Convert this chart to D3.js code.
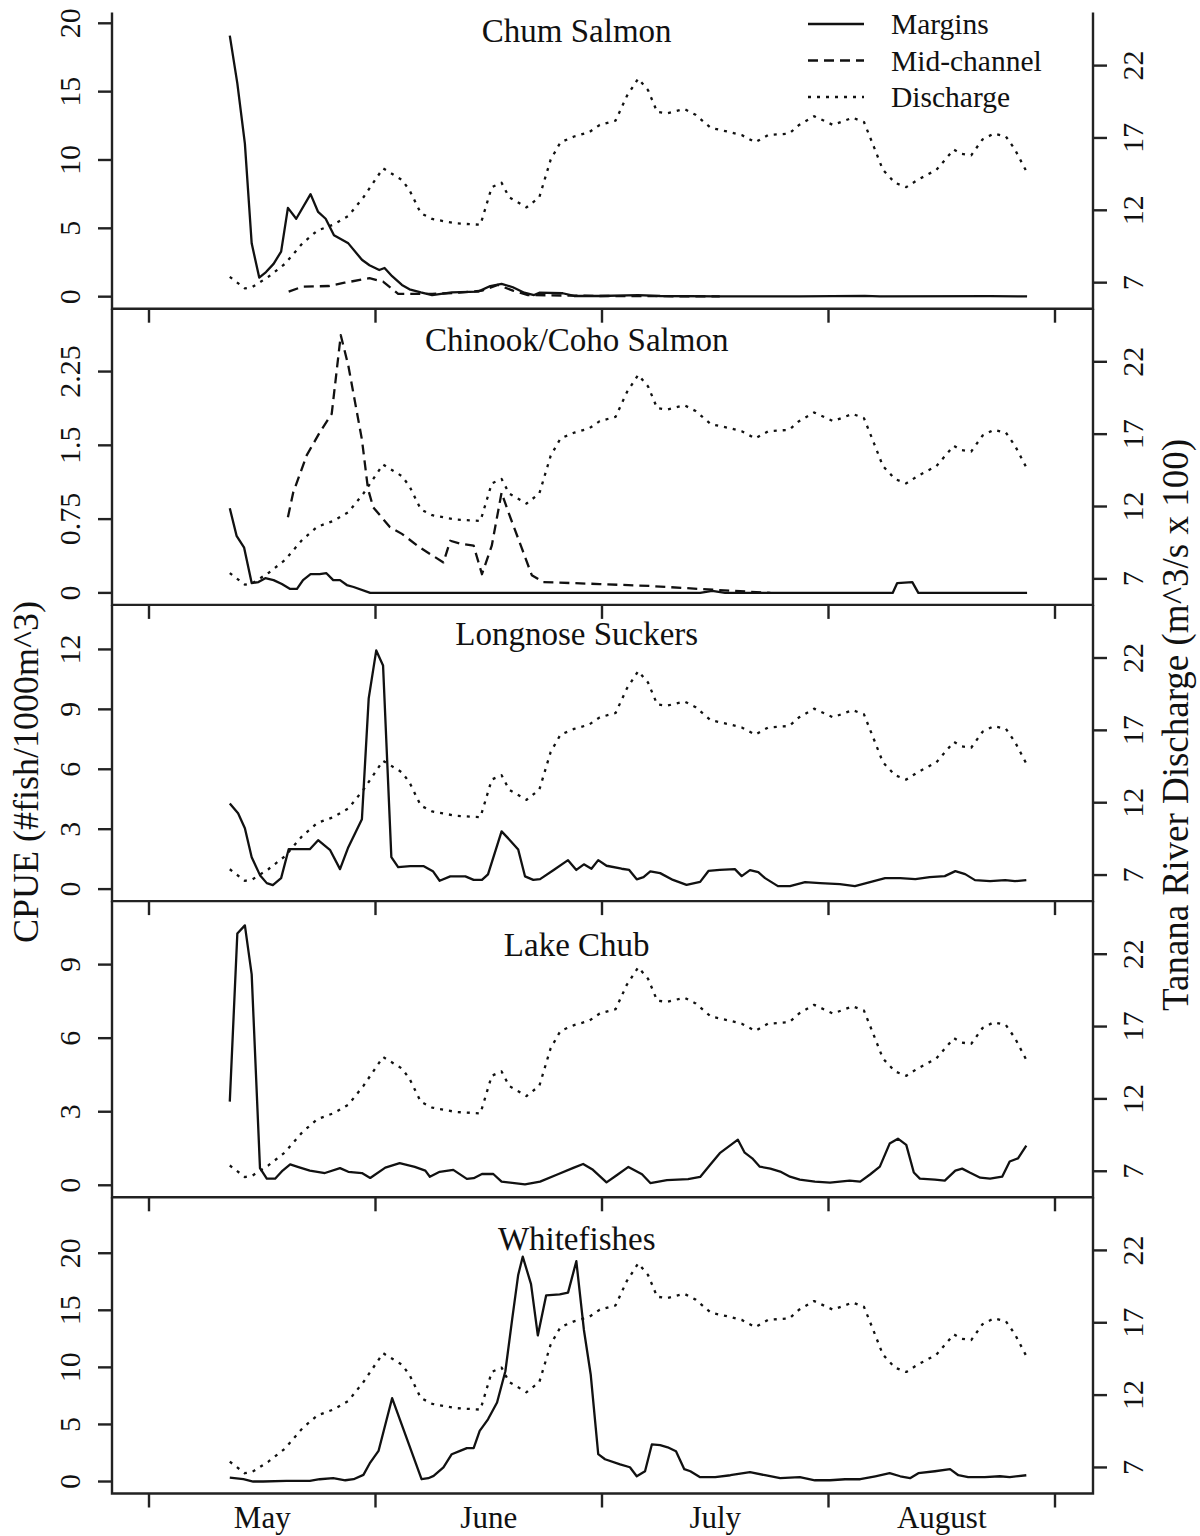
<!DOCTYPE html>
<html>
<head>
    <title>CPUE and Tanana River discharge</title>
    <script src="https://d3js.org/d3.v7.min.js"></script>
    <style>
        body { margin: 0; background: #fff; }
        svg text { font-family: "Liberation Serif", "DejaVu Serif", serif; fill: #111; }
        .spine { stroke: #222; stroke-width: 2.4; fill: none; }
        .series { fill: none; stroke: #111; stroke-width: 2.3; stroke-linejoin: round; }
    </style>
</head>
<body>
    <div id="chart"></div>

    <script>
        // Month axis (days counted from the first tick)
        const monthNames = ["May", "June", "July", "August"];
        const monthTickDays = [0, 30, 60, 90, 120];
        const monthLabelDays = [15, 45, 75, 105];

        // Panel titles and left axis ticks
        const panelTitles = ["Chum Salmon", "Chinook/Coho Salmon", "Longnose Suckers", "Lake Chub", "Whitefishes"];
        const cpueTicks = [[0, 5, 10, 15, 20], [0, 0.75, 1.5, 2.25], [0, 3, 6, 9, 12], [0, 3, 6, 9], [0, 5, 10, 15, 20]];
        const cpueDomains = [[-0.88, 20.79], [-0.122, 2.889], [-0.60, 14.23], [-0.49, 11.59], [-1.05, 24.9]];
        const flowTicks = [7, 12, 17, 22];
        const flowDomain = [5.2, 25.67];

        // Tanana River discharge (m^3/s x 100), same line in every panel
        const discharge = [[10.7,7.4],[12.7,6.6],[13.7,6.7],[15.8,7.4],[18.0,8.3],[20.3,9.7],[22.3,10.6],[24.4,11.0],
            [26.4,11.6],[28.4,12.9],[31.0,14.9],[33.5,14.1],[34.5,13.4],[36.0,11.8],[37.5,11.4],[40.6,11.1],[43.9,11.0],
            [45.4,13.6],[46.7,13.9],[47.7,12.9],[50.0,12.2],[51.7,12.9],[53.2,15.5],[54.5,16.7],[56.3,17.1],[58.3,17.4],
            [59.7,17.9],[61.8,18.2],[63.3,19.9],[64.8,21.1],[66.1,20.3],[67.3,18.8],[68.6,18.7],[70.9,19.0],[72.4,18.6],
            [74.4,17.7],[77.0,17.4],[78.5,17.2],[80.3,16.7],[82.0,17.2],[84.8,17.3],[86.1,17.9],[88.1,18.5],[90.6,17.9],
            [93.2,18.4],[94.7,18.1],[96.0,16.4],[97.2,14.8],[98.8,13.9],[100.3,13.6],[101.8,14.1],[104.3,14.8],[106.6,16.2],
            [107.6,15.9],[108.9,15.8],[110.4,16.9],[111.9,17.3],[113.5,17.1],[114.7,16.2],[116.3,14.6]];

        // CPUE (#fish/1000m^3), [day, value]
        const chumMargins = [[10.7,19.1],[11.7,15.6],[12.7,11.2],[13.6,3.9],[14.6,1.4],[15.5,1.8],[16.5,2.4],[17.5,3.3],
            [18.4,6.5],[19.5,5.7],[21.4,7.5],[22.4,6.2],[23.4,5.7],[24.5,4.5],[26.4,3.9],[28.2,2.7],[29.2,2.3],[30.5,1.95],
            [31.2,2.1],[32.2,1.5],[33.5,0.86],[34.5,0.54],[36.0,0.32],[37.5,0.12],[40.1,0.32],[43.6,0.37],[45.2,0.78],
            [46.7,0.93],[48.2,0.69],[49.7,0.29],[51.0,0.12],[51.7,0.29],[54.8,0.25],[56.3,0.05],[59.7,0.05],[64.8,0.12],
            [67.7,0.05],[75.6,0.02],[86.2,0.02],[94.8,0.06],[96.8,0.02],[111.4,0.04],[116.3,0.02]];
        const chumMid = [[18.5,0.37],[20.3,0.73],[23.8,0.78],[25.9,1.02],[29.2,1.35],[31.0,1.1],[33.0,0.2],[37.5,0.2],
            [41.1,0.29],[44.1,0.44],[46.2,0.86],[48.2,0.44],[50.2,0.12],[59.7,0.05],[75.6,0.02]];

        const chinookMargins = [[10.7,0.86],[11.6,0.58],[12.6,0.46],[13.6,0.10],[14.5,0.11],[15.4,0.15],[16.5,0.13],
            [17.6,0.09],[18.7,0.04],[19.6,0.04],[20.4,0.13],[21.4,0.19],[22.6,0.19],[23.5,0.2],[24.4,0.13],[25.3,0.13],
            [26.2,0.08],[27.1,0.06],[29.3,0],[73.0,0],[74.6,0.02],[76.3,0],[98.5,0],[99.1,0.1],[101.1,0.11],[101.9,0],[116.3,0]];
        const chinookMid = [[18.4,0.77],[19.1,1.02],[20.9,1.40],[22.6,1.63],[24.2,1.82],[25.4,2.62],[26.4,2.31],[28.2,1.56],
            [29.0,1.06],[29.7,0.87],[31.9,0.67],[33.5,0.6],[35.9,0.46],[39.0,0.31],[39.9,0.53],[41.2,0.5],[43.0,0.48],
            [44.1,0.19],[45.4,0.48],[46.7,1.02],[47.6,0.82],[49.4,0.45],[50.7,0.18],[52.2,0.11],[59.7,0.09],[66.4,0.07],
            [73.0,0.04],[75.3,0.03],[82.3,0.0]];

        const longnoseMargins = [[10.7,4.29],[11.8,3.8],[12.7,3.05],[13.6,1.6],[14.7,0.7],[15.6,0.3],[16.4,0.2],[17.5,0.55],
            [18.5,2.0],[19.6,2.0],[21.3,2.0],[22.4,2.45],[24.0,1.95],[25.3,1.0],[26.4,2.1],[28.2,3.5],[29.1,9.55],[30.1,11.95],
            [31.0,11.2],[32.1,1.6],[33.0,1.1],[34.6,1.15],[36.4,1.15],[37.6,0.9],[38.5,0.42],[39.9,0.64],[41.9,0.64],[43.0,0.46],
            [44.1,0.46],[44.9,0.74],[46.7,2.89],[47.8,2.45],[48.9,1.98],[49.8,0.64],[50.9,0.46],[51.8,0.5],[53.6,0.96],[55.5,1.45],
            [56.6,0.96],[57.6,1.24],[58.6,1.02],[59.5,1.45],[60.6,1.17],[62.6,1.02],[63.6,0.96],[64.6,0.49],[65.5,0.6],[66.4,0.89],
            [67.7,0.8],[69.4,0.46],[71.2,0.21],[73.0,0.36],[74.1,0.91],[75.6,0.96],[77.6,1.0],[78.5,0.65],[79.6,0.95],[80.7,0.85],
            [81.6,0.55],[83.3,0.15],[84.9,0.15],[86.9,0.35],[88.9,0.3],[91.5,0.25],[93.5,0.15],[95.5,0.35],[97.5,0.55],[99.5,0.55],
            [101.5,0.5],[103.4,0.6],[105.4,0.65],[106.8,0.9],[108.1,0.75],[109.4,0.45],[111.4,0.4],[113.4,0.45],[114.7,0.4],[116.2,0.45]];

        const chubMargins = [[10.7,3.41],[11.7,10.27],[12.7,10.6],[13.6,8.6],[14.7,0.7],[15.6,0.27],[16.7,0.27],[17.7,0.6],
            [18.7,0.85],[19.7,0.75],[21.3,0.6],[23.3,0.5],[25.3,0.7],[26.4,0.55],[28.2,0.5],[29.3,0.3],[31.3,0.72],[33.2,0.9],
            [35.2,0.75],[36.6,0.6],[37.2,0.35],[38.5,0.55],[40.3,0.63],[42.1,0.26],[43.0,0.29],[44.1,0.46],[45.6,0.46],[46.7,0.15],
            [49.8,0.04],[51.8,0.15],[54.0,0.43],[56.2,0.71],[57.5,0.87],[58.8,0.63],[60.6,0.12],[61.9,0.4],[63.5,0.75],[65.3,0.45],
            [66.4,0.09],[68.6,0.21],[71.4,0.25],[73.0,0.34],[74.3,0.83],[75.6,1.31],[78.0,1.86],[78.9,1.33],[79.9,1.1],[80.9,0.76],
            [82.3,0.68],[83.6,0.56],[84.9,0.35],[86.2,0.23],[88.2,0.15],[90.2,0.11],[91.5,0.15],[92.8,0.19],[94.2,0.15],[95.5,0.44],
            [96.8,0.76],[98.1,1.7],[99.2,1.9],[100.3,1.65],[101.3,0.52],[102.1,0.27],[104.1,0.23],[105.4,0.19],[106.8,0.6],
            [107.7,0.68],[108.7,0.52],[110.1,0.31],[111.4,0.27],[113.0,0.35],[114.0,0.97],[115.1,1.1],[116.2,1.62]];

        const whiteMargins = [[10.7,0.35],[12.5,0.2],[13.8,0.0],[15.1,0.0],[18.2,0.05],[21.3,0.05],[22.6,0.2],[24.4,0.29],
            [26.0,0.11],[27.1,0.2],[28.4,0.58],[29.3,1.66],[30.4,2.68],[32.2,7.3],[36.1,0.2],[37.0,0.29],[37.7,0.49],[39.0,1.23],
            [40.1,2.39],[41.2,2.68],[42.1,2.92],[43.0,2.92],[43.8,4.43],[44.9,5.45],[46.1,6.92],[47.2,9.66],[48.1,14.2],[48.9,18.1],
            [49.5,19.7],[50.6,17.3],[51.5,12.8],[52.6,16.3],[54.4,16.4],[55.5,16.55],[56.6,19.3],[57.6,13.3],[58.5,9.4],[59.5,2.4],
            [60.4,1.95],[62.4,1.5],[63.7,1.25],[64.6,0.46],[65.7,0.9],[66.6,3.25],[67.7,3.18],[68.7,3.0],[69.8,2.65],[70.9,1.08],
            [71.7,0.9],[73.0,0.38],[75.0,0.38],[77.0,0.55],[79.6,0.82],[81.6,0.55],[83.6,0.29],[86.2,0.38],[88.2,0.11],[90.2,0.11],
            [92.2,0.2],[94.2,0.2],[96.2,0.46],[98.1,0.73],[99.5,0.46],[100.8,0.29],[101.9,0.73],[104.1,0.9],[106.1,1.08],
            [107.2,0.55],[108.5,0.38],[110.7,0.38],[112.7,0.46],[114.0,0.38],[116.2,0.55]];

        const marginSeries = [chumMargins, chinookMargins, longnoseMargins, chubMargins, whiteMargins];
        const midSeries = [chumMid, chinookMid, null, null, null];
        const legendLabels = ["Margins", "Mid-channel", "Discharge"];

        // Layout
        const width = 1200, height = 1536;
        const plotLeft = 112, plotRight = 1093, plotTop = 12.5, panelH = 296.2;
        const titleOffsets = [29.5, 42.3, 40.5, 55, 53];
        const dashMid = "10,6", dashFlow = "3,6";

        const svg = d3.select("#chart").append("svg")
            .attr("width", width)
            .attr("height", height);

        svg.append("rect").attr("width", width).attr("height", height).attr("fill", "#fff");

        const x = d3.scaleLinear().domain([0, 120]).range([149, 1055]);

        panelTitles.forEach(function(title, i) {
            const y0 = plotTop + i * panelH;
            const y1 = y0 + panelH;
            const g = svg.append("g");

            const y = d3.scaleLinear().domain(cpueDomains[i]).range([y1, y0]);
            const yFlow = d3.scaleLinear().domain(flowDomain).range([y1, y0]);

            // Frame: left, right and bottom (no top line on first panel)
            g.append("path").attr("class", "spine")
                .attr("d", `M${plotLeft},${y0}V${y1}H${plotRight}V${y0}`);

            // Bottom ticks point down out of the panel
            g.selectAll(".xt").data(monthTickDays).enter().append("line")
                .attr("class", "spine")
                .attr("x1", d => x(d)).attr("x2", d => x(d))
                .attr("y1", y1).attr("y2", y1 + 14);

            // Left axis
            g.selectAll(".yt").data(cpueTicks[i]).enter().append("line")
                .attr("class", "spine")
                .attr("x1", plotLeft - 14).attr("x2", plotLeft)
                .attr("y1", d => y(d)).attr("y2", d => y(d));
            g.selectAll(".yl").data(cpueTicks[i]).enter().append("text")
                .attr("transform", d => `translate(80,${y(d)}) rotate(-90)`)
                .attr("text-anchor", "middle")
                .style("font-size", "30px")
                .text(d => String(d));

            // Right axis
            g.selectAll(".rt").data(flowTicks).enter().append("line")
                .attr("class", "spine")
                .attr("x1", plotRight).attr("x2", plotRight + 14)
                .attr("y1", d => yFlow(d)).attr("y2", d => yFlow(d));
            g.selectAll(".rl").data(flowTicks).enter().append("text")
                .attr("transform", d => `translate(1143,${yFlow(d)}) rotate(-90)`)
                .attr("text-anchor", "middle")
                .style("font-size", "30px")
                .text(d => String(d));

            // Lines
            const line = d3.line().x(d => x(d[0])).y(d => y(d[1]));
            const flowLine = d3.line().x(d => x(d[0])).y(d => yFlow(d[1]));

            g.append("path").attr("class", "series")
                .attr("stroke-dasharray", dashFlow)
                .attr("d", flowLine(discharge));
            if (midSeries[i]) {
                g.append("path").attr("class", "series")
                    .attr("stroke-dasharray", dashMid)
                    .attr("d", line(midSeries[i]));
            }
            g.append("path").attr("class", "series")
                .attr("d", line(marginSeries[i]));

            // Title
            g.append("text")
                .attr("x", 576.7).attr("y", y0 + titleOffsets[i])
                .attr("text-anchor", "middle")
                .style("font-size", "33px")
                .text(title);
        });

        // Legend (top panel)
        const legendDash = [null, dashMid, dashFlow];
        const legend = svg.append("g");
        legendLabels.forEach(function(label, k) {
            const ly = 24 + k * 36.5;
            legend.append("line")
                .attr("class", "series")
                .attr("x1", 808).attr("x2", 864)
                .attr("y1", ly).attr("y2", ly)
                .attr("stroke-dasharray", legendDash[k]);
            legend.append("text")
                .attr("x", 891).attr("y", ly + 10)
                .style("font-size", "29.5px")
                .text(label);
        });

        // Month labels
        const plotBottom = plotTop + 5 * panelH;
        svg.selectAll(".month").data(monthNames).enter().append("text")
            .attr("x", (d, k) => x(monthLabelDays[k]))
            .attr("y", plotBottom + 34)
            .attr("text-anchor", "middle")
            .style("font-size", "31px")
            .text(d => d);

        // Axis titles
        svg.append("text")
            .attr("transform", "translate(38,772) rotate(-90)")
            .attr("text-anchor", "middle")
            .style("font-size", "36px")
            .text("CPUE (#fish/1000m^3)");
        svg.append("text")
            .attr("transform", "translate(1188,725) rotate(-90)")
            .attr("text-anchor", "middle")
            .style("font-size", "37px")
            .text("Tanana River Discharge (m^3/s x 100)");
    </script>
</body>
</html>
